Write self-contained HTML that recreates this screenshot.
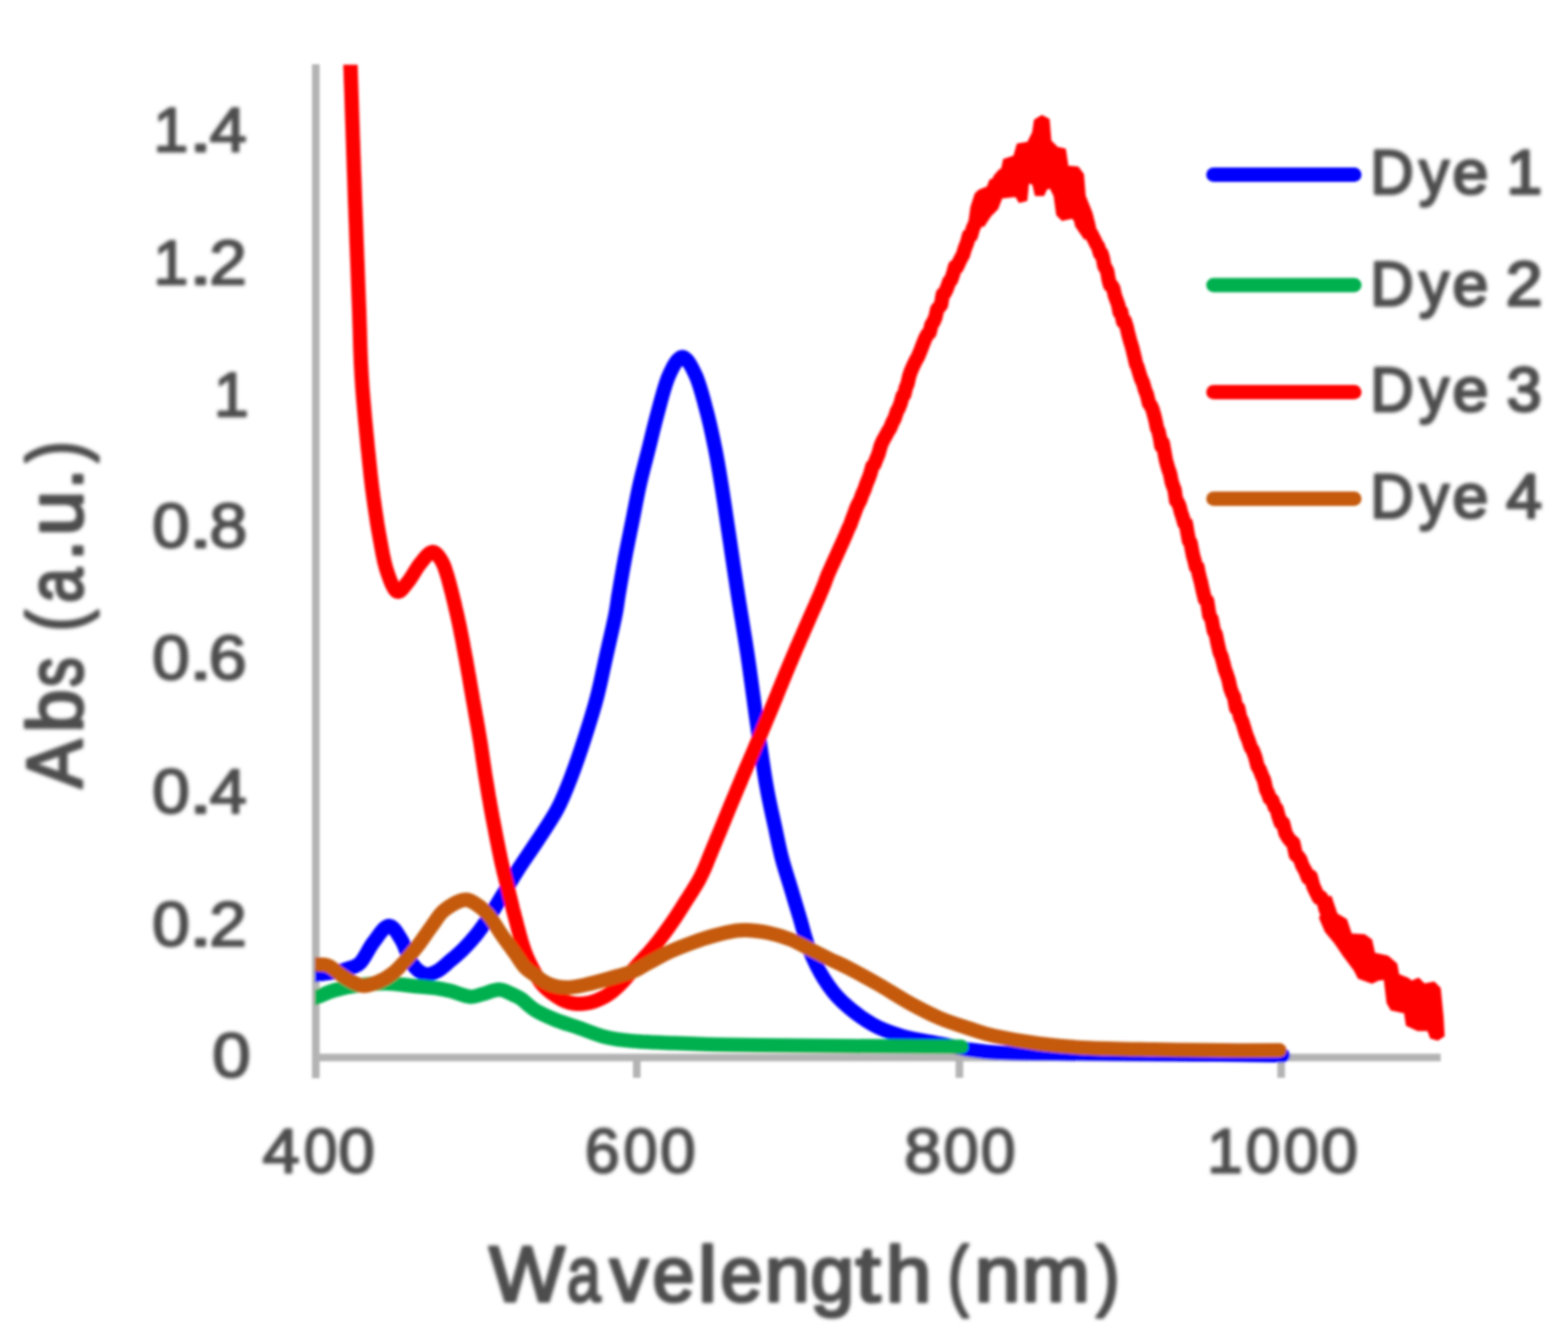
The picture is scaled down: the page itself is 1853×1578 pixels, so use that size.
<!DOCTYPE html>
<html><head><meta charset="utf-8"><title>Absorbance spectra</title>
<style>html,body{margin:0;padding:0;background:#fff;}body{width:1853px;height:1578px;overflow:hidden;}svg{display:block;}</style>
</head><body>
<svg width="1853" height="1578" viewBox="0 0 1853 1578">
<rect width="1853" height="1578" fill="#fff"/>
<defs><filter id="bl" x="-5%" y="-5%" width="110%" height="110%"><feGaussianBlur stdDeviation="1.4"/></filter><filter id="bt" x="-10%" y="-10%" width="120%" height="120%"><feGaussianBlur stdDeviation="1.9"/></filter></defs>
<g filter="url(#bl)">
<g stroke="#B4B4B4" stroke-width="9" fill="none">
<line x1="373.2" y1="76" x2="373.2" y2="1274.5"/>
<line x1="369.2" y1="1250" x2="1702.5" y2="1250"/>
<line x1="752.5" y1="1250" x2="752.5" y2="1274"/>
<line x1="1133.8" y1="1250" x2="1133.8" y2="1274"/>
<line x1="1514.0" y1="1250" x2="1514.0" y2="1274"/>
</g>
<defs><clipPath id="pa"><rect x="372.2" y="76.5" width="1428" height="1300"/></clipPath></defs>
<g clip-path="url(#pa)">
<path d="M372.6 1152.3 C376.4 1151.8 389.2 1150.3 395.4 1149.2 C401.6 1148.1 404.9 1147.4 410.0 1145.5 C415.1 1143.6 420.6 1143.2 425.8 1138.0 C431.0 1132.8 435.4 1121.5 441.0 1114.3 C446.6 1107.0 453.7 1095.0 459.3 1094.5 C464.9 1094.0 469.9 1103.9 474.5 1111.2 C479.1 1118.5 482.1 1131.9 486.6 1138.6 C491.2 1145.3 496.7 1150.0 501.8 1151.5 C506.9 1153.0 511.9 1150.4 517.0 1147.7 C522.1 1145.0 527.1 1139.9 532.2 1135.6 C537.3 1131.3 542.4 1127.0 547.5 1121.9 C552.6 1116.8 557.6 1111.4 562.7 1105.1 C567.8 1098.8 572.9 1091.5 577.9 1083.9 C582.9 1076.3 587.4 1068.6 593.0 1059.5 C598.6 1050.4 604.4 1040.2 611.5 1029.1 C618.6 1018.0 627.8 1005.0 635.6 993.0 C643.4 981.0 652.0 968.8 658.4 956.8 C664.8 944.8 668.7 934.7 674.1 920.7 C679.5 906.7 685.7 888.7 690.9 872.6 C696.1 856.5 701.2 840.5 705.4 824.4 C709.6 808.3 712.6 792.3 716.2 776.3 C719.8 760.2 724.5 740.3 727.0 728.1 C729.5 715.9 729.1 714.3 731.0 703.0 C732.9 691.7 735.8 674.4 738.5 660.1 C741.2 645.8 744.2 631.4 747.1 617.0 C750.0 602.6 752.5 588.3 755.7 573.9 C758.9 559.5 762.9 545.2 766.5 530.8 C770.1 516.4 773.3 502.1 777.3 487.7 C781.2 473.3 785.4 455.6 790.2 444.6 C795.1 433.7 801.0 422.0 806.4 422.0 C811.8 422.0 817.6 433.7 822.5 444.6 C827.4 455.6 831.7 473.3 835.5 487.7 C839.3 502.1 842.3 516.4 845.2 530.8 C848.1 545.2 850.4 559.5 852.7 573.9 C855.0 588.3 857.1 602.6 859.2 617.0 C861.4 631.4 863.5 645.7 865.6 660.1 C867.8 674.5 869.1 683.9 872.1 703.2 C875.1 722.5 880.0 751.2 883.7 776.0 C887.4 800.8 890.6 826.8 894.2 852.1 C897.9 877.5 901.9 906.8 905.6 928.1 C909.3 949.4 913.3 965.4 916.4 980.0 C919.5 994.6 921.2 1003.7 924.3 1015.5 C927.4 1027.3 931.5 1039.2 935.0 1051.0 C938.5 1062.8 942.1 1074.6 945.6 1086.4 C949.1 1098.2 951.6 1110.1 956.3 1121.9 C961.0 1133.7 967.5 1147.1 974.0 1157.4 C980.5 1167.8 985.8 1175.1 995.3 1184.0 C1004.8 1192.9 1019.0 1203.8 1030.8 1210.6 C1042.6 1217.4 1053.0 1220.9 1066.3 1224.8 C1079.6 1228.7 1097.3 1231.0 1110.6 1233.7 C1123.9 1236.4 1134.6 1239.0 1146.1 1240.8 C1157.6 1242.6 1162.9 1243.5 1179.8 1244.3 C1196.7 1245.1 1219.3 1245.2 1247.7 1245.5 C1276.1 1245.8 1318.0 1245.8 1350.0 1246.0 C1382.0 1246.2 1412.3 1246.2 1440.0 1246.5 C1467.7 1246.8 1503.3 1247.3 1516.0 1247.5" fill="none" stroke="#0000FF" stroke-width="17" stroke-linejoin="round" stroke-linecap="round"/>
<path d="M372.6 1179.6 C376.4 1178.1 386.5 1173.0 395.4 1170.5 C404.3 1168.0 415.7 1165.8 425.8 1164.4 C435.9 1163.0 446.1 1162.1 456.2 1162.2 C466.3 1162.3 476.5 1164.2 486.6 1165.2 C496.7 1166.2 509.4 1167.2 517.0 1168.2 C524.6 1169.2 525.9 1169.7 532.2 1171.3 C538.5 1172.9 548.6 1177.5 555.0 1178.1 C561.4 1178.7 564.5 1176.5 570.3 1175.1 C576.1 1173.7 583.7 1169.5 590.0 1169.8 C596.3 1170.0 603.9 1174.7 608.3 1176.6 C612.7 1178.5 612.4 1178.2 616.5 1181.2 C620.6 1184.2 626.1 1190.3 633.0 1194.4 C639.9 1198.5 649.5 1202.7 657.7 1206.0 C665.9 1209.3 672.8 1210.9 682.4 1214.2 C692.0 1217.5 704.3 1223.0 715.3 1225.7 C726.3 1228.4 734.6 1229.4 748.3 1230.6 C762.0 1231.8 781.2 1232.4 797.7 1233.1 C814.2 1233.8 830.6 1234.4 847.1 1234.8 C863.6 1235.2 871.0 1235.3 896.5 1235.6 C922.0 1235.9 960.1 1236.2 1000.0 1236.5 C1039.9 1236.8 1113.3 1237.1 1136.0 1237.2" fill="none" stroke="#00B050" stroke-width="17" stroke-linejoin="round" stroke-linecap="round"/>
<path d="M414.1 76.0 L414.3 81.1 L414.5 87.1 L414.7 94.1 L415.0 102.0 L415.3 110.5 L415.6 119.6 L415.9 129.2 L416.2 139.2 L416.6 149.5 L416.9 160.0 L417.3 170.5 L417.6 180.9 L418.0 191.2 L418.3 201.2 L418.7 210.8 L419.0 220.0 L419.3 228.9 L419.6 238.0 L420.0 247.2 L420.3 256.4 L420.7 265.7 L421.0 274.9 L421.3 284.1 L421.7 293.3 L422.0 302.3 L422.4 311.2 L422.7 320.0 L423.0 328.5 L423.3 336.8 L423.6 344.9 L423.9 352.6 L424.2 360.0 L424.5 367.0 L424.7 373.7 L424.9 380.0 L425.1 386.0 L425.3 391.8 L425.4 397.4 L425.6 402.8 L425.7 408.1 L425.9 413.3 L426.1 418.5 L426.3 423.7 L426.5 428.9 L426.8 434.3 L427.1 439.7 L427.4 445.4 L427.8 451.3 L428.2 457.5 L428.7 463.8 L429.2 470.4 L429.8 477.1 L430.4 483.9 L431.0 490.8 L431.6 497.7 L432.3 504.5 L432.9 511.3 L433.6 517.9 L434.2 524.4 L434.8 530.7 L435.5 536.7 L436.0 542.4 L436.6 547.7 L437.1 552.7 L437.6 557.3 L438.0 561.6 L438.5 565.5 L438.9 569.2 L439.3 572.7 L439.7 576.0 L440.1 579.1 L440.5 582.0 L440.9 584.8 L441.2 587.5 L441.6 590.2 L442.0 592.8 L442.3 595.4 L442.7 598.0 L443.1 600.7 L443.5 603.4 L443.9 606.1 L444.3 608.8 L444.7 611.4 L445.1 613.9 L445.4 616.4 L445.8 618.8 L446.2 621.2 L446.6 623.5 L447.0 625.8 L447.4 628.1 L447.8 630.4 L448.2 632.6 L448.6 634.8 L449.0 637.0 L449.4 639.2 L449.8 641.4 L450.2 643.6 L450.6 645.8 L451.0 648.0 L451.4 650.1 L451.8 652.2 L452.2 654.4 L452.6 656.4 L453.1 658.5 L453.5 660.6 L453.9 662.6 L454.4 664.6 L454.9 666.5 L455.4 668.4 L455.9 670.3 L456.4 672.2 L457.0 674.0 L457.6 675.8 L458.2 677.7 L458.9 679.7 L459.6 681.6 L460.3 683.6 L461.0 685.5 L461.8 687.4 L462.5 689.2 L463.3 691.0 L464.1 692.6 L464.9 694.1 L465.6 695.5 L466.4 696.6 L467.2 697.6 L468.0 698.4 L468.8 699.0 L469.6 699.3 L470.4 699.4 L471.2 699.3 L472.0 699.0 L472.8 698.6 L473.6 698.0 L474.4 697.2 L475.3 696.4 L476.1 695.4 L476.9 694.4 L477.8 693.4 L478.6 692.3 L479.5 691.2 L480.3 690.1 L481.2 689.0 L482.0 688.0 L482.9 686.9 L483.7 685.8 L484.6 684.6 L485.4 683.3 L486.3 681.9 L487.2 680.6 L488.1 679.1 L489.0 677.7 L489.8 676.3 L490.7 674.8 L491.6 673.4 L492.5 672.0 L493.4 670.7 L494.2 669.4 L495.1 668.1 L496.0 667.0 L496.9 665.9 L497.8 664.8 L498.7 663.6 L499.6 662.5 L500.5 661.3 L501.4 660.2 L502.3 659.2 L503.2 658.1 L504.1 657.2 L505.0 656.3 L505.8 655.4 L506.7 654.7 L507.5 654.0 L508.3 653.5 L509.1 653.1 L509.9 652.8 L510.6 652.6 L511.4 652.6 L512.1 652.6 L512.7 652.8 L513.4 653.0 L514.0 653.4 L514.7 653.8 L515.3 654.3 L515.9 654.8 L516.5 655.4 L517.1 656.1 L517.7 656.8 L518.3 657.6 L518.8 658.3 L519.4 659.2 L520.0 660.0 L520.6 660.8 L521.1 661.7 L521.6 662.6 L522.1 663.4 L522.6 664.4 L523.1 665.3 L523.6 666.4 L524.1 667.4 L524.6 668.6 L525.1 669.9 L525.6 671.2 L526.1 672.7 L526.6 674.3 L527.2 676.1 L527.8 678.0 L528.4 680.0 L529.1 682.2 L529.8 684.7 L530.5 687.3 L531.2 690.0 L532.0 693.0 L532.8 696.0 L533.6 699.1 L534.4 702.3 L535.2 705.5 L536.0 708.8 L536.8 712.1 L537.6 715.4 L538.3 718.7 L539.1 721.9 L539.8 725.0 L540.5 728.1 L541.2 731.1 L541.8 734.1 L542.5 737.1 L543.1 740.1 L543.7 743.2 L544.3 746.2 L544.9 749.2 L545.5 752.2 L546.1 755.2 L546.7 758.2 L547.3 761.2 L547.8 764.3 L548.4 767.3 L549.0 770.3 L549.5 773.3 L550.1 776.3 L550.7 779.3 L551.2 782.3 L551.7 785.3 L552.3 788.3 L552.8 791.3 L553.3 794.3 L553.9 797.3 L554.4 800.3 L554.9 803.4 L555.4 806.4 L555.9 809.4 L556.4 812.4 L556.9 815.4 L557.5 818.4 L558.0 821.4 L558.5 824.4 L559.0 827.4 L559.6 830.4 L560.1 833.4 L560.6 836.4 L561.2 839.5 L561.7 842.5 L562.2 845.5 L562.8 848.5 L563.3 851.5 L563.8 854.5 L564.4 857.5 L564.9 860.6 L565.4 863.6 L565.9 866.6 L566.4 869.6 L566.9 872.6 L567.4 875.6 L567.9 878.6 L568.3 881.6 L568.8 884.6 L569.2 887.6 L569.7 890.6 L570.1 893.6 L570.5 896.6 L571.0 899.7 L571.4 902.7 L571.9 905.7 L572.3 908.7 L572.8 911.7 L573.2 914.7 L573.7 917.7 L574.2 920.7 L574.7 923.7 L575.2 926.7 L575.7 929.7 L576.2 932.7 L576.7 935.8 L577.2 938.8 L577.7 941.8 L578.3 944.8 L578.8 947.8 L579.3 950.8 L579.8 953.8 L580.4 956.9 L580.9 959.9 L581.5 962.9 L582.0 965.9 L582.6 968.9 L583.2 971.9 L583.8 975.0 L584.4 978.1 L585.0 981.3 L585.6 984.5 L586.2 987.6 L586.8 990.8 L587.4 993.9 L588.1 997.0 L588.7 1000.1 L589.3 1003.1 L589.9 1006.1 L590.5 1009.0 L591.1 1011.7 L591.6 1014.4 L592.2 1017.0 L592.7 1019.5 L593.3 1021.8 L593.8 1024.0 L594.3 1026.2 L594.8 1028.3 L595.2 1030.3 L595.7 1032.2 L596.2 1034.1 L596.7 1036.0 L597.1 1037.9 L597.6 1039.8 L598.1 1041.6 L598.5 1043.5 L599.0 1045.4 L599.5 1047.4 L600.0 1049.4 L600.5 1051.4 L601.0 1053.4 L601.5 1055.4 L601.9 1057.4 L602.4 1059.4 L602.9 1061.4 L603.4 1063.4 L603.9 1065.4 L604.4 1067.4 L604.9 1069.4 L605.4 1071.5 L605.9 1073.6 L606.4 1075.7 L607.0 1077.9 L607.6 1080.1 L608.2 1082.4 L608.8 1084.8 L609.5 1087.2 L610.1 1089.8 L610.8 1092.4 L611.5 1095.1 L612.2 1097.8 L613.0 1100.6 L613.7 1103.3 L614.4 1106.0 L615.2 1108.8 L615.9 1111.4 L616.7 1114.0 L617.5 1116.6 L618.3 1119.0 L619.0 1121.4 L619.8 1123.6 L620.6 1125.7 L621.4 1127.8 L622.2 1129.9 L623.1 1131.8 L623.9 1133.8 L624.8 1135.7 L625.6 1137.5 L626.5 1139.3 L627.4 1141.0 L628.2 1142.7 L629.1 1144.3 L629.9 1145.9 L630.7 1147.4 L631.5 1148.8 L632.3 1150.2 L633.0 1151.6 L633.7 1152.9 L634.4 1154.1 L635.0 1155.2 L635.6 1156.2 L636.2 1157.2 L636.8 1158.1 L637.3 1159.0 L637.9 1159.8 L638.5 1160.6 L639.0 1161.4 L639.6 1162.1 L640.2 1162.9 L640.9 1163.6 L641.5 1164.4 L642.2 1165.2 L643.0 1166.0 L643.8 1166.8 L644.6 1167.7 L645.5 1168.5 L646.4 1169.3 L647.4 1170.1 L648.3 1170.9 L649.3 1171.7 L650.3 1172.5 L651.3 1173.3 L652.3 1174.0 L653.3 1174.7 L654.3 1175.4 L655.2 1176.1 L656.2 1176.8 L657.1 1177.4 L658.0 1178.0 L658.9 1178.6 L659.7 1179.1 L660.5 1179.6 L661.4 1180.1 L662.2 1180.6 L663.0 1181.0 L663.8 1181.5 L664.6 1181.9 L665.4 1182.3 L666.1 1182.6 L666.9 1183.0 L667.7 1183.3 L668.5 1183.6 L669.3 1183.9 L670.2 1184.2 L671.0 1184.5 L671.8 1184.8 L672.7 1185.0 L673.5 1185.2 L674.4 1185.4 L675.2 1185.6 L676.1 1185.8 L676.9 1185.9 L677.8 1186.1 L678.7 1186.2 L679.6 1186.3 L680.4 1186.4 L681.3 1186.4 L682.2 1186.5 L683.1 1186.5 L684.1 1186.5 L685.0 1186.5 L685.9 1186.5 L686.9 1186.4 L687.9 1186.4 L688.8 1186.3 L689.8 1186.2 L690.8 1186.1 L691.8 1186.0 L692.8 1185.9 L693.8 1185.7 L694.8 1185.5 L695.9 1185.3 L696.9 1185.1 L697.9 1184.9 L698.9 1184.6 L700.0 1184.3 L701.0 1184.0 L702.0 1183.7 L703.1 1183.3 L704.2 1182.9 L705.2 1182.5 L706.3 1182.1 L707.4 1181.6 L708.5 1181.1 L709.6 1180.6 L710.6 1180.1 L711.7 1179.6 L712.8 1179.0 L713.9 1178.4 L714.9 1177.9 L716.0 1177.3 L717.0 1176.6 L718.0 1176.0 L719.0 1175.3 L720.0 1174.7 L720.9 1174.0 L721.9 1173.3 L722.9 1172.6 L723.8 1171.8 L724.7 1171.0 L725.7 1170.3 L726.6 1169.5 L727.5 1168.7 L728.4 1167.8 L729.3 1167.0 L730.3 1166.1 L731.2 1165.3 L732.1 1164.4 L733.0 1163.5 L733.9 1162.6 L734.8 1161.7 L735.6 1160.9 L736.4 1160.0 L737.2 1159.1 L738.0 1158.2 L738.8 1157.3 L739.6 1156.4 L740.4 1155.4 L741.2 1154.4 L742.1 1153.4 L743.1 1152.3 L744.0 1151.1 L745.1 1149.9 L746.2 1148.6 L747.4 1147.3 L748.7 1145.9 L750.1 1144.4 L751.5 1142.8 L753.0 1141.1 L754.6 1139.4 L756.2 1137.7 L757.9 1135.9 L759.5 1134.1 L761.2 1132.2 L762.9 1130.4 L764.6 1128.5 L766.3 1126.6 L767.9 1124.8 L769.5 1123.0 L771.0 1121.2 L772.5 1119.4 L773.9 1117.7 L775.3 1115.9 L776.7 1114.2 L778.1 1112.4 L779.4 1110.7 L780.8 1108.9 L782.1 1107.2 L783.4 1105.4 L784.7 1103.7 L786.0 1102.0 L787.2 1100.2 L788.5 1098.5 L789.7 1096.7 L791.0 1095.0 L792.2 1093.2 L793.4 1091.5 L794.6 1089.8 L795.8 1088.0 L797.0 1086.3 L798.2 1084.5 L799.3 1082.8 L800.4 1081.1 L801.6 1079.3 L802.7 1077.6 L803.8 1075.9 L804.9 1074.1 L806.0 1072.4 L807.1 1070.7 L808.2 1068.9 L809.3 1067.2 L810.4 1065.4 L811.5 1063.7 L812.6 1062.0 L813.7 1060.3 L814.8 1058.6 L815.8 1056.9 L816.9 1055.3 L818.0 1053.6 L819.0 1051.9 L820.1 1050.2 L821.1 1048.6 L822.2 1046.8 L823.2 1045.1 L824.2 1043.3 L825.3 1041.5 L826.3 1039.7 L827.3 1037.8 L828.3 1035.8 L829.3 1033.8 L830.2 1031.9 L831.0 1030.1 L831.9 1028.3 L832.7 1026.4 L833.5 1024.5 L834.3 1022.6 L835.1 1020.7 L835.9 1018.6 L836.8 1016.4 L837.7 1014.1 L838.7 1011.7 L839.8 1009.1 L840.9 1006.3 L842.2 1003.2 L843.5 1000.0 L845.0 996.5 L846.5 992.8 L848.1 988.8 L849.9 984.7 L851.7 980.3 L853.5 975.9 L855.4 971.3 L857.3 966.6 L859.3 961.8 L861.3 956.9 L863.3 952.1 L865.3 947.2 L867.3 942.4 L869.4 937.5 L871.3 932.8 L873.3 928.1 L875.3 923.5 L877.2 918.8 L879.2 914.1 L881.2 909.4 L883.2 904.7 L885.3 899.9 L887.3 895.1 L889.4 890.4 L891.4 885.6 L893.4 880.8 L895.5 876.0 L897.5 871.2 L899.6 866.4 L901.6 861.6 L903.6 856.9 L905.6 852.1 L907.6 847.3 L909.6 842.6 L911.5 837.8 L913.5 833.1 L915.4 828.3 L917.4 823.6 L919.3 818.8 L921.2 814.0 L923.2 809.3 L925.1 804.5 L927.1 799.8 L929.0 795.0 L931.0 790.3 L933.0 785.5 L935.0 780.8 L937.0 776.0 L939.1 771.2 L941.2 766.1 L943.5 761.0 L945.7 755.7 L948.1 750.5 L950.4 745.2 L952.7 739.9 L955.0 734.7 L957.2 729.6 L959.4 724.6 L961.5 719.8 L963.6 715.3 L965.4 711.0 L967.2 707.0 L968.8 703.3 L970.2 700.0 L971.4 697.2 L972.4 694.8 L973.2 692.8 L973.9 691.1 L974.4 689.8 L974.8 688.6 L975.2 687.7 L975.5 686.8 L975.8 686.0 L976.0 685.2 L976.3 684.3 L976.7 683.4 L977.2 682.2 L977.7 680.8 L978.4 679.1 L979.3 677.1 L980.3 674.8 L981.4 672.3 L982.6 669.6 L983.9 666.8 L985.2 663.9 L986.6 660.9 L988.0 657.8 L989.5 654.6 L990.9 651.3 L992.4 648.1 L993.9 644.8 L995.4 641.5 L996.8 638.3 L998.2 635.1 L999.6 632.0 L1002.2 625.6 L1004.7 620.5 L1007.1 613.6 L1009.5 607.4 L1011.9 600.6 L1014.2 595.6 L1016.6 591.3 L1019.0 584.4 L1021.4 579.2 L1023.8 572.1 L1026.2 566.3 L1028.5 560.0 L1030.9 551.2 L1033.3 548.9 L1035.7 542.4 L1038.2 536.4 L1040.8 526.9 L1043.5 520.8 L1046.2 516.1 L1049.0 510.8 L1051.9 506.1 L1054.6 499.5 L1057.3 494.4 L1059.9 486.4 L1062.3 482.0 L1064.5 476.2 L1066.6 468.2 L1068.6 466.6 L1070.5 458.4 L1072.5 453.6 L1074.6 444.2 L1076.8 437.9 L1079.2 432.6 L1081.9 426.8 L1084.8 421.8 L1087.7 414.7 L1090.7 406.9 L1093.5 399.8 L1096.2 394.9 L1098.6 393.2 L1100.7 384.1 L1103.3 380.1 L1105.5 374.9 L1107.5 365.8 L1109.8 363.1 L1112.1 360.3 L1114.2 347.7 L1116.4 346.3 L1119.0 340.8 L1121.8 332.8 L1123.9 330.9 L1126.2 324.4 L1128.6 315.5 L1131.0 315.5 L1133.5 309.6 L1135.9 304.9 L1138.1 301.0 L1140.4 293.2 L1142.8 287.3 L1145.1 278.5 L1147.5 278.2 L1149.7 270.1 L1151.9 265.6 L1154.0 259.0 L1156.8 253.4 L1159.3 248.7 L1161.6 247.8 L1163.8 234.5 L1166.2 231.3 L1168.9 231.2 L1172.9 229.0 L1177.1 222.4 L1181.6 212.1 L1186.2 206.8 L1191.1 210.6 L1196.3 204.9 L1201.4 201.2 L1206.2 203.7 L1210.7 201.2 L1215.0 196.1 L1220.1 193.5 L1225.5 191.6 L1230.9 192.9 L1235.9 192.1 L1240.6 196.1 L1244.5 200.9 L1248.3 200.6 L1251.6 212.6 L1254.5 216.6 L1257.3 220.6 L1260.3 220.0 L1262.9 228.0 L1265.6 236.9 L1268.5 235.8 L1271.5 245.6 L1274.7 254.6 L1278.0 254.7 L1281.6 268.0 L1285.4 271.3 L1289.3 275.7 L1293.2 283.3 L1295.6 288.5 L1297.8 291.8 L1299.8 299.2 L1301.7 299.7 L1303.4 305.5 L1305.1 314.5 L1306.8 317.3 L1308.4 320.5 L1310.1 330.4 L1311.8 337.0 L1313.6 337.5 L1315.6 340.7 L1317.5 349.4 L1319.5 354.9 L1321.4 359.9 L1323.2 369.4 L1324.9 368.1 L1327.2 380.3 L1329.2 379.2 L1331.4 386.2 L1333.5 395.3 L1335.5 402.8 L1336.9 407.3 L1338.1 411.3 L1339.3 416.3 L1340.8 422.4 L1342.6 430.3 L1344.2 433.6 L1346.2 440.4 L1348.3 447.2 L1350.7 452.2 L1353.1 460.7 L1355.5 466.9 L1357.9 477.0 L1360.1 479.6 L1362.1 484.2 L1363.9 490.6 L1365.7 497.8 L1367.4 506.3 L1369.1 509.7 L1370.8 517.7 L1372.4 527.4 L1374.1 523.6 L1375.9 533.3 L1377.6 542.8 L1379.3 549.5 L1381.1 555.4 L1382.8 560.2 L1384.5 569.0 L1386.3 574.5 L1388.1 579.1 L1389.9 592.0 L1391.8 593.7 L1393.7 598.0 L1395.6 605.4 L1397.6 611.4 L1399.5 618.1 L1401.4 618.6 L1403.3 629.9 L1405.1 639.4 L1406.8 640.8 L1408.4 649.1 L1410.0 657.2 L1411.7 663.0 L1413.4 670.6 L1415.1 670.3 L1417.1 680.3 L1419.2 688.0 L1421.5 698.5 L1424.0 708.6 L1426.5 710.1 L1429.2 727.6 L1431.8 731.9 L1434.4 745.5 L1436.8 749.8 L1439.1 761.3 L1441.4 771.1 L1443.5 775.7 L1445.6 783.4 L1447.6 791.5 L1449.7 797.1 L1451.8 803.4 L1454.0 813.6 L1456.2 819.7 L1458.5 824.2 L1460.8 837.2 L1463.2 836.8 L1465.5 847.9 L1468.0 852.8 L1470.4 860.7 L1472.9 868.9 L1475.4 875.1 L1478.0 883.2 L1480.6 887.2 L1483.4 894.7 L1486.1 905.5 L1488.8 910.1 L1491.4 916.8 L1493.9 922.5 L1496.3 933.3 L1498.5 937.6 L1500.5 943.8 L1503.5 945.8 L1506.5 954.1 L1508.7 956.3 L1511.0 965.1 L1513.5 972.4 L1516.3 973.1 L1519.2 984.9 L1522.3 990.3 L1525.4 994.2 L1528.4 996.4 L1531.4 1010.7 L1534.2 1012.7 L1536.8 1016.4 L1539.2 1023.4 L1542.6 1029.4 L1545.8 1037.7 L1548.9 1035.9 L1552.0 1047.4 L1555.2 1054.4 L1558.6 1061.0 L1561.0 1060.7 L1564.2 1065.4 L1567.0 1076.2 L1569.0 1077.3" fill="none" stroke="#FF0000" stroke-width="17" stroke-linejoin="round" stroke-linecap="round"/>
<path d="M1146.0 260.0 L1148.0 245.0 L1153.0 229.5 L1157.1 225.5 L1167.2 221.4 L1170.3 213.3 L1182.4 209.2 L1186.5 188.9 L1198.7 184.9 L1202.7 170.7 L1214.9 168.7 L1221.0 156.5 L1223.0 142.3 L1231.1 137.2 L1239.2 141.3 L1241.3 166.6 L1249.4 174.8 L1258.5 176.8 L1261.5 197.1 L1273.7 198.1 L1279.8 206.2 L1281.8 231.5 L1289.9 251.8 L1294.0 268.0 L1282.0 282.0 L1271.7 267.0 L1269.6 256.9 L1255.4 259.9 L1249.4 253.8 L1246.3 231.5 L1241.3 221.4 L1236.2 223.4 L1233.1 230.5 L1224.0 230.5 L1221.0 217.3 L1214.9 215.3 L1212.9 236.6 L1204.8 238.6 L1200.7 231.5 L1183.5 233.6 L1178.4 246.7 L1170.3 254.9 L1162.2 267.0 Z" fill="#FF0000" stroke="#FF0000" stroke-width="2.5" stroke-linejoin="round"/>
<path d="M1560.0 1085.1 L1566.0 1070.0 L1572.5 1060.0 L1579.4 1080.5 L1590.8 1087.4 L1596.5 1104.5 L1612.5 1105.6 L1620.4 1111.3 L1623.9 1127.3 L1639.8 1130.7 L1650.1 1139.8 L1652.4 1152.4 L1663.8 1156.9 L1668.3 1160.4 L1676.3 1156.9 L1683.2 1163.8 L1694.6 1161.5 L1701.4 1168.3 L1704.8 1202.5 L1706.0 1224.2 L1699.1 1228.8 L1691.1 1226.5 L1687.7 1217.4 L1675.2 1217.4 L1662.6 1211.7 L1660.4 1196.8 L1644.4 1193.4 L1639.8 1185.4 L1636.4 1156.9 L1628.4 1158.1 L1621.6 1161.5 L1605.6 1155.8 L1601.0 1146.7 L1594.2 1137.5 L1587.4 1128.4 L1578.2 1114.7 L1566.8 1101.0 Z" fill="#FF0000" stroke="#FF0000" stroke-width="2.5" stroke-linejoin="round"/>
<path d="M372.6 1140.0 C375.1 1140.3 382.7 1139.5 387.8 1141.6 C392.9 1143.6 397.9 1149.0 403.0 1152.3 C408.1 1155.6 413.6 1159.2 418.2 1161.4 C422.8 1163.6 425.3 1165.5 430.4 1165.2 C435.5 1165.0 443.0 1162.3 448.6 1159.9 C454.2 1157.5 458.7 1154.8 463.8 1150.8 C468.9 1146.8 473.9 1141.2 479.0 1135.6 C484.1 1130.0 489.1 1123.9 494.2 1117.3 C499.3 1110.7 504.3 1102.8 509.4 1096.0 C514.5 1089.2 518.2 1081.7 524.6 1076.3 C531.0 1070.9 541.1 1065.1 547.5 1063.8 C553.9 1062.5 557.6 1065.6 562.7 1068.7 C567.8 1071.8 572.9 1076.2 577.9 1082.3 C582.9 1088.4 587.9 1097.8 593.0 1105.1 C598.1 1112.4 603.8 1120.1 608.3 1126.4 C612.8 1132.7 615.9 1138.5 620.0 1143.0 C624.1 1147.5 628.8 1150.1 633.0 1153.2 C637.2 1156.3 640.9 1159.4 645.0 1161.5 C649.1 1163.6 653.1 1165.0 657.7 1166.0 C662.4 1167.0 667.2 1167.5 672.9 1167.2 C678.6 1166.9 685.7 1165.3 692.0 1164.0 C698.3 1162.7 704.5 1161.0 710.7 1159.3 C716.9 1157.6 722.7 1155.9 729.0 1154.0 C735.3 1152.1 742.2 1150.6 748.4 1148.0 C754.5 1145.4 758.7 1142.4 765.9 1138.5 C773.1 1134.6 783.2 1128.8 791.8 1124.8 C800.4 1120.8 809.1 1117.5 817.7 1114.4 C826.3 1111.3 835.0 1108.4 843.6 1106.0 C852.2 1103.6 863.0 1101.3 869.5 1100.2 C876.0 1099.1 876.0 1099.1 882.5 1099.5 C889.0 1099.9 899.8 1100.9 908.4 1102.7 C917.0 1104.5 925.7 1107.0 934.3 1110.5 C942.9 1114.0 952.6 1119.7 960.2 1123.5 C967.8 1127.3 972.7 1129.9 980.0 1133.5 C987.3 1137.1 994.2 1139.8 1004.2 1145.0 C1014.2 1150.2 1027.9 1157.7 1039.7 1164.5 C1051.5 1171.3 1063.3 1179.3 1075.1 1185.8 C1086.9 1192.3 1098.8 1198.5 1110.6 1203.5 C1122.4 1208.5 1135.4 1212.4 1146.1 1215.9 C1156.8 1219.4 1161.3 1221.5 1175.0 1224.5 C1188.7 1227.5 1209.7 1231.4 1228.3 1233.8 C1246.9 1236.2 1263.9 1237.6 1286.6 1238.7 C1309.3 1239.8 1338.4 1240.1 1364.3 1240.6 C1390.2 1241.1 1417.4 1241.4 1442.0 1241.6 C1466.6 1241.8 1500.3 1241.6 1512.0 1241.6" fill="none" stroke="#C55A11" stroke-width="17" stroke-linejoin="round" stroke-linecap="round"/>
</g>
<line x1="1434" y1="206.5" x2="1600.5" y2="206.5" stroke="#0000FF" stroke-width="17" stroke-linecap="round"/>
<line x1="1434" y1="337.0" x2="1600.5" y2="337.0" stroke="#00B050" stroke-width="17" stroke-linecap="round"/>
<line x1="1434" y1="463.4" x2="1600.5" y2="463.4" stroke="#FF0000" stroke-width="17" stroke-linecap="round"/>
<line x1="1434" y1="589.5" x2="1600.5" y2="589.5" stroke="#C55A11" stroke-width="17" stroke-linecap="round"/>
</g>
<g filter="url(#bt)" font-family="'Liberation Sans', Arial, sans-serif" fill="#4D4D4D" stroke="#4D4D4D" stroke-linejoin="round">
<text font-size="73.98" font-weight="normal" stroke-width="2.40"><tspan x="181.2" y="179.4" textLength="41.3" lengthAdjust="spacingAndGlyphs">1</tspan><tspan x="223.1" y="179.4" textLength="28.1" lengthAdjust="spacingAndGlyphs">.</tspan><tspan x="247.7" y="179.4" textLength="43.8" lengthAdjust="spacingAndGlyphs">4</tspan></text>
<text font-size="73.98" font-weight="normal" stroke-width="2.40"><tspan x="181.2" y="335.8" textLength="41.3" lengthAdjust="spacingAndGlyphs">1</tspan><tspan x="223.1" y="335.8" textLength="28.1" lengthAdjust="spacingAndGlyphs">.</tspan><tspan x="247.3" y="335.8" textLength="44.4" lengthAdjust="spacingAndGlyphs">2</tspan></text>
<text font-size="73.98" font-weight="normal" stroke-width="2.40"><tspan x="252.7" y="491.8" textLength="41.3" lengthAdjust="spacingAndGlyphs">1</tspan></text>
<text font-size="73.98" font-weight="normal" stroke-width="2.40"><tspan x="179.7" y="646.6" textLength="44.5" lengthAdjust="spacingAndGlyphs">0</tspan><tspan x="223.1" y="646.6" textLength="28.1" lengthAdjust="spacingAndGlyphs">.</tspan><tspan x="247.4" y="646.6" textLength="44.8" lengthAdjust="spacingAndGlyphs">8</tspan></text>
<text font-size="73.98" font-weight="normal" stroke-width="2.40"><tspan x="179.7" y="802.6" textLength="44.5" lengthAdjust="spacingAndGlyphs">0</tspan><tspan x="223.1" y="802.6" textLength="28.1" lengthAdjust="spacingAndGlyphs">.</tspan><tspan x="246.6" y="802.6" textLength="45.1" lengthAdjust="spacingAndGlyphs">6</tspan></text>
<text font-size="73.98" font-weight="normal" stroke-width="2.40"><tspan x="179.7" y="961.0" textLength="44.5" lengthAdjust="spacingAndGlyphs">0</tspan><tspan x="223.1" y="961.0" textLength="28.1" lengthAdjust="spacingAndGlyphs">.</tspan><tspan x="247.7" y="961.0" textLength="43.8" lengthAdjust="spacingAndGlyphs">4</tspan></text>
<text font-size="73.98" font-weight="normal" stroke-width="2.40"><tspan x="179.7" y="1117.6" textLength="44.5" lengthAdjust="spacingAndGlyphs">0</tspan><tspan x="223.1" y="1117.6" textLength="28.1" lengthAdjust="spacingAndGlyphs">.</tspan><tspan x="247.3" y="1117.6" textLength="44.4" lengthAdjust="spacingAndGlyphs">2</tspan></text>
<text font-size="73.98" font-weight="normal" stroke-width="2.40"><tspan x="250.8" y="1272.8" textLength="45.4" lengthAdjust="spacingAndGlyphs">0</tspan></text>
<text font-size="73.98" font-weight="normal" stroke-width="2.40"><tspan x="310.2" y="1386.1" textLength="43.9" lengthAdjust="spacingAndGlyphs">4</tspan><tspan x="359.0" y="1386.1" textLength="39.7" lengthAdjust="spacingAndGlyphs">0</tspan><tspan x="399.8" y="1386.1" textLength="43.2" lengthAdjust="spacingAndGlyphs">0</tspan></text>
<text font-size="73.98" font-weight="normal" stroke-width="2.40"><tspan x="691.0" y="1386.1" textLength="41.3" lengthAdjust="spacingAndGlyphs">6</tspan><tspan x="736.8" y="1386.1" textLength="40.2" lengthAdjust="spacingAndGlyphs">0</tspan><tspan x="780.0" y="1386.1" textLength="42.1" lengthAdjust="spacingAndGlyphs">0</tspan></text>
<text font-size="73.98" font-weight="normal" stroke-width="2.40"><tspan x="1068.5" y="1386.1" textLength="43.6" lengthAdjust="spacingAndGlyphs">8</tspan><tspan x="1115.1" y="1386.1" textLength="41.5" lengthAdjust="spacingAndGlyphs">0</tspan><tspan x="1159.1" y="1386.1" textLength="41.1" lengthAdjust="spacingAndGlyphs">0</tspan></text>
<text font-size="73.98" font-weight="normal" stroke-width="2.40"><tspan x="1426.5" y="1386.1" textLength="42.1" lengthAdjust="spacingAndGlyphs">1</tspan><tspan x="1472.1" y="1386.1" textLength="40.8" lengthAdjust="spacingAndGlyphs">0</tspan><tspan x="1516.9" y="1386.1" textLength="41.4" lengthAdjust="spacingAndGlyphs">0</tspan><tspan x="1561.0" y="1386.1" textLength="43.8" lengthAdjust="spacingAndGlyphs">0</tspan></text>
<text font-size="92.73" font-weight="normal" stroke-width="3.60"><tspan x="578.0" y="1537.5" textLength="89.6" lengthAdjust="spacingAndGlyphs">W</tspan><tspan x="669.9" y="1537.5" textLength="39.9" lengthAdjust="spacingAndGlyphs">a</tspan><tspan x="720.4" y="1537.5" textLength="45.8" lengthAdjust="spacingAndGlyphs">v</tspan><tspan x="771.0" y="1537.5" textLength="49.9" lengthAdjust="spacingAndGlyphs">e</tspan><tspan x="824.8" y="1537.5" textLength="22.8" lengthAdjust="spacingAndGlyphs">l</tspan><tspan x="851.2" y="1537.5" textLength="49.7" lengthAdjust="spacingAndGlyphs">e</tspan><tspan x="903.5" y="1537.5" textLength="53.5" lengthAdjust="spacingAndGlyphs">n</tspan><tspan x="957.7" y="1537.5" textLength="51.7" lengthAdjust="spacingAndGlyphs">g</tspan><tspan x="1011.0" y="1537.5" textLength="29.6" lengthAdjust="spacingAndGlyphs">t</tspan><tspan x="1046.8" y="1537.5" textLength="54.0" lengthAdjust="spacingAndGlyphs">h</tspan> <tspan x="1120.1" y="1537.5" textLength="24.7" lengthAdjust="spacingAndGlyphs">(</tspan><tspan x="1151.7" y="1537.5" textLength="54.0" lengthAdjust="spacingAndGlyphs">n</tspan><tspan x="1207.0" y="1537.5" textLength="81.2" lengthAdjust="spacingAndGlyphs">m</tspan><tspan x="1295.6" y="1537.5" textLength="27.6" lengthAdjust="spacingAndGlyphs">)</tspan></text>
<text transform="rotate(-90)" font-size="92.01" font-weight="normal" stroke-width="3.60"><tspan x="-931.6" y="97.0" textLength="57.1" lengthAdjust="spacingAndGlyphs">A</tspan><tspan x="-866.0" y="97.0" textLength="51.1" lengthAdjust="spacingAndGlyphs">b</tspan><tspan x="-811.9" y="97.0" textLength="35.0" lengthAdjust="spacingAndGlyphs">s</tspan> <tspan x="-746.2" y="97.0" textLength="25.0" lengthAdjust="spacingAndGlyphs">(</tspan><tspan x="-712.5" y="97.0" textLength="41.0" lengthAdjust="spacingAndGlyphs">a</tspan><tspan x="-663.0" y="97.0" textLength="24.7" lengthAdjust="spacingAndGlyphs">.</tspan><tspan x="-633.2" y="97.0" textLength="53.3" lengthAdjust="spacingAndGlyphs">u</tspan><tspan x="-578.5" y="97.0" textLength="24.7" lengthAdjust="spacingAndGlyphs">.</tspan><tspan x="-546.6" y="97.0" textLength="25.0" lengthAdjust="spacingAndGlyphs">)</tspan></text>
<text font-size="74.13" font-weight="normal" stroke-width="3.20"><tspan x="1619.5" y="229.4" textLength="51.1" lengthAdjust="spacingAndGlyphs">D</tspan><tspan x="1677.0" y="229.4" textLength="35.5" lengthAdjust="spacingAndGlyphs">y</tspan><tspan x="1716.6" y="229.4" textLength="42.4" lengthAdjust="spacingAndGlyphs">e</tspan> <tspan x="1780.2" y="229.4" textLength="42.2" lengthAdjust="spacingAndGlyphs">1</tspan></text>
<text font-size="74.13" font-weight="normal" stroke-width="3.20"><tspan x="1619.5" y="360.5" textLength="51.1" lengthAdjust="spacingAndGlyphs">D</tspan><tspan x="1677.0" y="360.5" textLength="35.5" lengthAdjust="spacingAndGlyphs">y</tspan><tspan x="1716.6" y="360.5" textLength="42.4" lengthAdjust="spacingAndGlyphs">e</tspan> <tspan x="1779.4" y="360.5" textLength="43.3" lengthAdjust="spacingAndGlyphs">2</tspan></text>
<text font-size="74.13" font-weight="normal" stroke-width="3.20"><tspan x="1619.5" y="486.0" textLength="51.1" lengthAdjust="spacingAndGlyphs">D</tspan><tspan x="1677.0" y="486.0" textLength="35.5" lengthAdjust="spacingAndGlyphs">y</tspan><tspan x="1716.6" y="486.0" textLength="42.4" lengthAdjust="spacingAndGlyphs">e</tspan> <tspan x="1780.4" y="486.0" textLength="41.2" lengthAdjust="spacingAndGlyphs">3</tspan></text>
<text font-size="74.13" font-weight="normal" stroke-width="3.20"><tspan x="1619.5" y="611.6" textLength="51.1" lengthAdjust="spacingAndGlyphs">D</tspan><tspan x="1677.0" y="611.6" textLength="35.5" lengthAdjust="spacingAndGlyphs">y</tspan><tspan x="1716.6" y="611.6" textLength="42.4" lengthAdjust="spacingAndGlyphs">e</tspan> <tspan x="1779.9" y="611.6" textLength="42.2" lengthAdjust="spacingAndGlyphs">4</tspan></text>
</g>
</svg>
</body></html>
